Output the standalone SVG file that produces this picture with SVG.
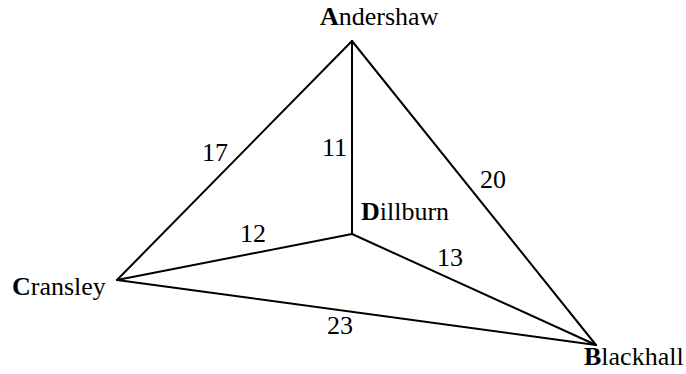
<svg xmlns="http://www.w3.org/2000/svg" width="686" height="374" viewBox="0 0 686 374">
<style>
text{font-family:"Liberation Serif","Times New Roman",serif;font-size:26px;fill:#000}
.b{font-weight:bold}
.e{stroke:#000;stroke-width:2;fill:none;stroke-linecap:round}
</style>
<rect width="686" height="374" fill="#fff"/>
<g id="connectors">
<line class="e" x1="352" y1="41" x2="117" y2="280"/>
<line class="e" x1="352" y1="41" x2="596" y2="345"/>
<line class="e" x1="352" y1="41" x2="352" y2="234"/>
<line class="e" x1="352" y1="234" x2="117" y2="280"/>
<line class="e" x1="352" y1="234" x2="596" y2="345"/>
<line class="e" x1="117" y1="280" x2="596" y2="345"/>
<text x="202" y="161">17</text>
<text x="322" y="156">11</text>
<text x="480" y="188">20</text>
<text x="240" y="242">12</text>
<text x="437" y="266">13</text>
<text x="327" y="334">23</text>
</g>
<g id="andershaw"><text x="320" y="25"><tspan class="b">A</tspan>ndershaw</text></g>
<g id="cransley"><text x="12" y="295"><tspan class="b">C</tspan>ransley</text></g>
<g id="blackhall"><text x="584" y="365"><tspan class="b">B</tspan>lackhall</text></g>
<g id="dillburn"><text x="361" y="220"><tspan class="b">D</tspan>illburn</text></g>
</svg>
